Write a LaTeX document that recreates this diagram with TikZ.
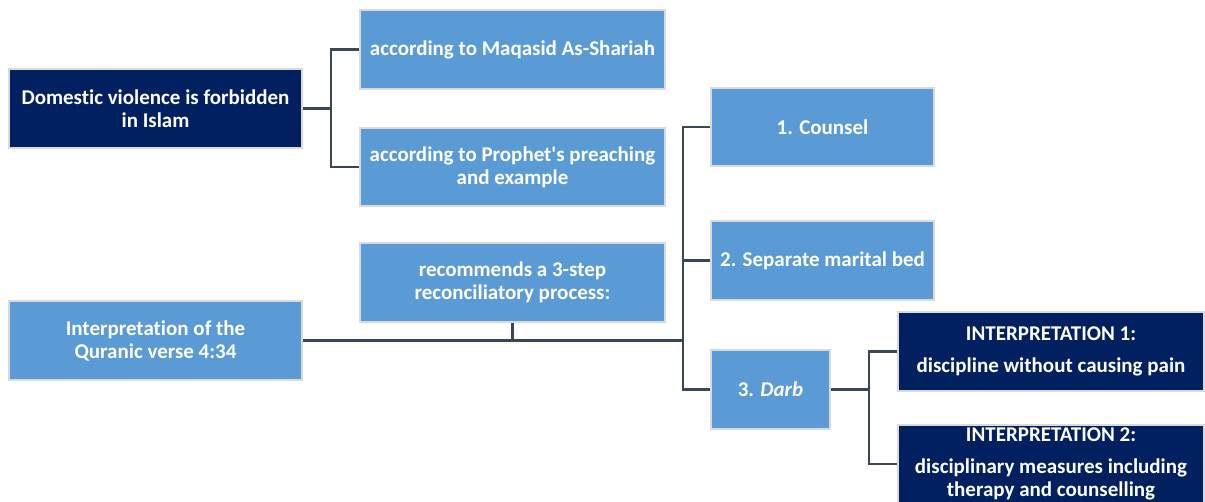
\documentclass[tikz,border=0pt]{standalone}
\usepackage{fontspec}
\setmainfont{Carlito}[Ligatures=NoCommon]
\definecolor{lightbox}{HTML}{5B9BD5}
\definecolor{darkbox}{HTML}{002060}
\definecolor{boxedge}{HTML}{DADADA}
\definecolor{linkcol}{HTML}{3B4658}
\begin{document}
\begin{tikzpicture}[x=1pt,y=-1pt,
  box/.style={draw=boxedge,line width=2.5pt,text=white,align=center,inner sep=0pt,
    font=\fontsize{21}{23}\selectfont\bfseries,minimum height=79pt},
  light/.style={box,fill=lightbox},
  dark/.style={box,fill=darkbox},
  link/.style={draw=linkcol,line width=2.8pt}]
  \useasboundingbox (0,0) rectangle (1205,502);
  \node[dark,minimum width=293pt] (islam) at (155.5,108.5) {Domestic violence is forbidden\\in Islam};
  \node[light,minimum width=305pt] (maqasid) at (512.5,49.5) {according to Maqasid As-Shariah};
  \node[light,minimum width=305pt,minimum height=78pt] (prophet) at (512.5,167) {according to Prophet\textquotesingle s preaching\\and example};
  \node[light,minimum width=293pt] (verse) at (155.5,340.5) {Interpretation of the\\Quranic verse 4:34};
  \node[light,minimum width=305pt] (process) at (512.5,282.5) {recommends a 3-step\\reconciliatory process:};
  \node[light,minimum width=223pt,minimum height=78pt] (counsel) at (822.5,127) {1. Counsel};
  \node[light,minimum width=223pt] (bed) at (822.5,260.5) {2. Separate marital bed};
  \node[light,minimum width=119pt] (darb) at (770.5,389.5) {3. \textit{Darb}};
  \node[dark,minimum width=306pt] (interp1) at (1051,351.5) {INTERPRETATION 1:\\[9pt]discipline without causing pain};
  \node[dark,minimum width=306pt,minimum height=78pt] (interp2) at (1051,464) {INTERPRETATION 2:\\[9pt]disciplinary measures including\\therapy and counselling};
  % joints
  \coordinate (j1) at (331,108.5);
  \coordinate (j2) at (683,340.5);
  \coordinate (j3) at (869,389.5);
  \draw[link] (islam.east) -- (j1);
  \draw[link] (maqasid.west) -| (j1) |- (prophet.west);
  \draw[link] (verse.east) -- (j2);
  \draw[link] (process.south) -- (process.south |- j2);
  \draw[link] (counsel.west) -| (j2) |- (darb.west);
  \draw[link] (bed.west) -- (bed.west -| j2);
  \draw[link] (darb.east) -- (j3);
  \draw[link] (interp1.west) -| (j3) |- (interp2.west);
\end{tikzpicture}
\end{document}
